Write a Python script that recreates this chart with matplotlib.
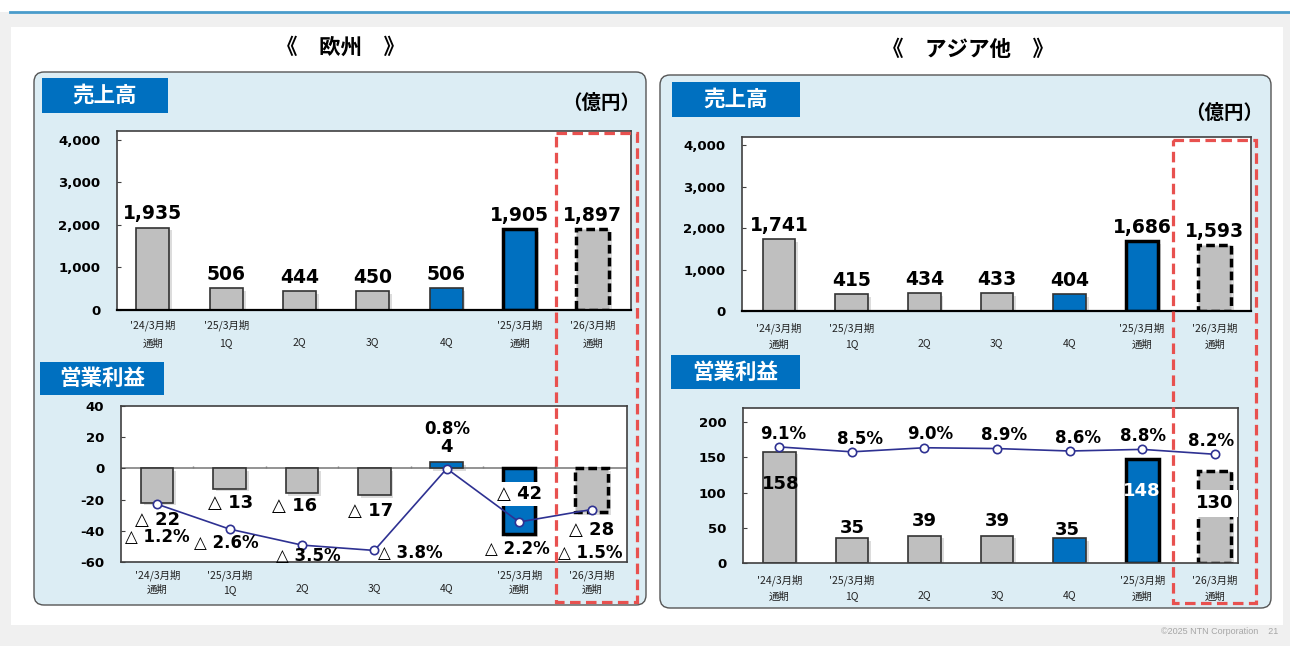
import numpy as np
import matplotlib
matplotlib.use('Agg')
import matplotlib.pyplot as plt
import matplotlib.patheffects as pe
from matplotlib.patches import FancyBboxPatch, Rectangle

plt.rcParams['font.family'] = ['Noto Sans CJK JP', 'DejaVu Sans']
NUM_FONT = ['DejaVu Sans', 'Noto Sans CJK JP']

W, H = 1290, 646

# 区分ラベル（2段）
periods_top = ["'24/3月期", "'25/3月期", "", "", "", "'25/3月期", "'26/3月期"]
periods_bottom = ["通期", "1Q", "2Q", "3Q", "4Q", "通期", "通期"]
kinds = ['past', 'past', 'past', 'past', 'q', 'fy', 'fc']

# 欧州
eu_sales = [1935, 506, 444, 450, 506, 1905, 1897]
eu_profit = [-22, -13, -16, -17, 4, -42, -28]
eu_margin = [-1.2, -2.6, -3.5, -3.8, 0.8, -2.2, -1.5]

# アジア他
as_sales = [1741, 415, 434, 433, 404, 1686, 1593]
as_profit = [158, 35, 39, 39, 35, 148, 130]
as_margin = [9.1, 8.5, 9.0, 8.9, 8.6, 8.8, 8.2]

GRAY = '#bfbfbf'
BLUE = '#0070c0'
NAVY = '#2e3192'
RED = '#e8514f'

bar_style = {
    'past': dict(facecolor=GRAY, edgecolor='#333333', linewidth=1.2),
    'q': dict(facecolor=BLUE, edgecolor='#333333', linewidth=1.2),
    'fy': dict(facecolor=BLUE, edgecolor='black', linewidth=2.5),
    'fc': dict(facecolor=GRAY, edgecolor='black', linewidth=2.5, linestyle=(0, (2.5, 1.2))),
}


def rect(x0, y0, x1, y1):
    return [x0 / W, 1 - y1 / H, (x1 - x0) / W, (y1 - y0) / H]


def fmt_signed(v, pct=False):
    s = f"{abs(v):.1f}%" if pct else f"{abs(v):,}"
    return f"△ {s}" if v < 0 else s


def draw_bars(ax, values):
    x = np.arange(len(values))
    for i, v in enumerate(values):
        ax.bar(x[i], v, width=0.45, zorder=2,
               path_effects=[pe.SimplePatchShadow(offset=(2, -2), shadow_rgbFace='#8c8c8c', alpha=0.3), pe.Normal()],
               **bar_style[kinds[i]])
    return x


def style_axes(ax, yticks, xlim, ylim, pad, linespacing):
    ax.set_xlim(*xlim)
    ax.set_ylim(*ylim)
    ax.set_yticks(yticks)
    ax.set_yticklabels([f"{t:,}" for t in yticks], fontsize=9.5, fontweight='bold', family=NUM_FONT)
    ax.set_xticks(range(len(periods_bottom)))
    ax.set_xticklabels([t + "\n" + b for t, b in zip(periods_top, periods_bottom)],
                       fontsize=7.5, linespacing=linespacing, color='#222222')
    ax.tick_params(axis='x', length=0, pad=pad)
    ax.tick_params(axis='y', direction='in', length=3, color='#404040', pad=12)
    for sp in ax.spines.values():
        sp.set_color('#404040')
        sp.set_linewidth(1.2)


fig = plt.figure(figsize=(W / 100, H / 100), dpi=100)
fig.patch.set_facecolor('#f0f0f0')

# 背景・パネル
bg = fig.add_axes([0, 0, 1, 1], zorder=0)
bg.set_xlim(0, W)
bg.set_ylim(H, 0)
bg.set_axis_off()
bg.add_patch(Rectangle((0, 0), W, 12, facecolor='white', edgecolor='none'))
bg.plot([10, W], [12, 12], color='#4a9ccb', lw=2)
bg.add_patch(Rectangle((11, 27), 1272, 598, facecolor='white', edgecolor='none'))
for x0, y0, x1, y1 in [(34, 72, 646, 605), (660, 75, 1271, 608)]:
    bg.add_patch(FancyBboxPatch((x0, y0), x1 - x0, y1 - y0, boxstyle='round,pad=0,rounding_size=10',
                                facecolor='#dcedf4', edgecolor='#555555', lw=1))

bg.text(341, 47, "《　欧州　》", ha='center', va='center', fontsize=15.5, fontweight='bold')
bg.text(968, 49, "《　アジア他　》", ha='center', va='center', fontsize=15.5, fontweight='bold')

for (x0, y0, x1, y1), label in [((42, 78, 168, 113), "売上高"), ((40, 362, 164, 395), "営業利益"),
                                ((672, 82, 800, 117), "売上高"), ((671, 355, 800, 389), "営業利益")]:
    bg.add_patch(Rectangle((x0, y0), x1 - x0, y1 - y0, facecolor=BLUE, edgecolor='none'))
    bg.text((x0 + x1) / 2, (y0 + y1) / 2, label, ha='center', va='center', color='white',
            fontsize=15.5, fontweight='bold')

bg.text(601, 103, "（億円）", ha='center', va='center', fontsize=14, fontweight='bold')
bg.text(1224, 113, "（億円）", ha='center', va='center', fontsize=14, fontweight='bold')
bg.text(1278, 632, "©2025 NTN Corporation    21", ha='right', va='center', fontsize=6.5,
        color='#a6a6a6', family=['Liberation Sans', 'DejaVu Sans'])

# 欧州 売上高
ax1 = fig.add_axes(rect(117, 131, 631, 310), zorder=2)
x = draw_bars(ax1, eu_sales)
style_axes(ax1, [0, 1000, 2000, 3000, 4000], (-0.49, 6.52), (0, 4200), 6.5, 2.0)
ax1.spines['bottom'].set_color('black')
ax1.spines['bottom'].set_linewidth(1.6)
for i, v in enumerate(eu_sales):
    ax1.annotate(f"{v:,}", (x[i], v), xytext=(0, 3), textcoords='offset points', family=NUM_FONT,
                 ha='center', va='bottom', fontsize=13.5, fontweight='bold', zorder=5)

# アジア他 売上高
ax3 = fig.add_axes(rect(742, 137, 1251, 311), zorder=2)
x = draw_bars(ax3, as_sales)
style_axes(ax3, [0, 1000, 2000, 3000, 4000], (-0.51, 6.5), (0, 4200), 8, 1.7)
ax3.spines['bottom'].set_color('black')
ax3.spines['bottom'].set_linewidth(1.6)
for i, v in enumerate(as_sales):
    ax3.annotate(f"{v:,}", (x[i], v), xytext=(0, 3), textcoords='offset points', family=NUM_FONT,
                 ha='center', va='bottom', fontsize=13.5, fontweight='bold', zorder=5)

# 欧州 営業利益
ax2 = fig.add_axes(rect(121, 406, 627, 562), zorder=2)
x = draw_bars(ax2, eu_profit)
style_axes(ax2, [-60, -40, -20, 0, 20, 40], (-0.5, 6.49), (-60, 40), 5.5, 1.45)
ax2.axhline(0, color='#808080', lw=1.2, zorder=1)
ax2.vlines(np.arange(0.5, len(eu_profit) - 1), 0, 1.8, color='#808080', lw=1, zorder=1)
profit_off = [(0, -17), (1, -14), (-7, -13), (-4, -16), (0, 15), (0, 40), (0, -18)]
for i, v in enumerate(eu_profit):
    box = dict(boxstyle='square,pad=0.15', fc='white', ec='none') if kinds[i] == 'fy' else None
    ax2.annotate(fmt_signed(v), (x[i], v), xytext=profit_off[i], textcoords='offset pixels', family=NUM_FONT,
                 ha='center', va='center', fontsize=13, fontweight='bold', bbox=box, zorder=5)
ax2b = ax2.twinx()
ax2b.set_zorder(3)
ax2b.set_ylim(-4.45, 4.32)
ax2b.set_axis_off()
ax2b.plot(x, eu_margin, color=NAVY, lw=1.2, marker='o', ms=6, mfc='white', mec=NAVY, mew=1.2)
margin_off = [(0, -33), (-3, -14), (6, -11), (36, -3), (0, 40), (-2, -27), (-1, -43)]
for i, m in enumerate(eu_margin):
    ax2b.annotate(fmt_signed(m, pct=True), (x[i], m), xytext=margin_off[i], textcoords='offset pixels',
                  family=NUM_FONT, ha='center', va='center', fontsize=12, fontweight='bold')

# アジア他 営業利益
ax4 = fig.add_axes(rect(743, 408, 1238, 563), zorder=2)
x = draw_bars(ax4, as_profit)
style_axes(ax4, [0, 50, 100, 150, 200], (-0.5, 6.32), (0, 220), 8, 1.7)
as_off = [(1, -32), (0, 10), (0, 15), (0, 15), (-2, 8), (0, -32), (0, -32)]
for i, v in enumerate(as_profit):
    box = dict(boxstyle='square,pad=0.25', fc='white', ec='none') if kinds[i] == 'fc' else None
    col = 'white' if kinds[i] == 'fy' else 'black'
    ax4.annotate(f"{v:,}", (x[i], v), xytext=as_off[i], textcoords='offset pixels', family=NUM_FONT,
                 ha='center', va='center', fontsize=13, fontweight='bold', color=col, bbox=box, zorder=5)
ax4b = ax4.twinx()
ax4b.set_zorder(3)
ax4b.set_ylim(-5.15, 13.88)
ax4b.set_axis_off()
ax4b.plot(x, as_margin, color=NAVY, lw=1.2, marker='o', ms=6, mfc='white', mec=NAVY, mew=1.2)
as_moff = [(4, 13), (8, 13), (6, 14), (7, 14), (8, 13), (1, 13), (-4, 13)]
for i, m in enumerate(as_margin):
    ax4b.annotate(f"{m:.1f}%", (x[i], m), xytext=as_moff[i], textcoords='offset pixels',
                  family=NUM_FONT, ha='center', va='center', fontsize=12, fontweight='bold')

# 予想の強調枠
ov = fig.add_axes([0, 0, 1, 1], zorder=20)
ov.set_xlim(0, W)
ov.set_ylim(H, 0)
ov.set_axis_off()
ov.patch.set_visible(False)
for x0, y0, x1, y1 in [(556, 133, 637, 602), (1173, 140, 1256, 603)]:
    ov.add_patch(Rectangle((x0, y0), x1 - x0, y1 - y0, facecolor='none', edgecolor=RED,
                           lw=2.3, linestyle=(0, (3.3, 1.7))))

fig.savefig('out.png', dpi=100, facecolor=fig.get_facecolor())
